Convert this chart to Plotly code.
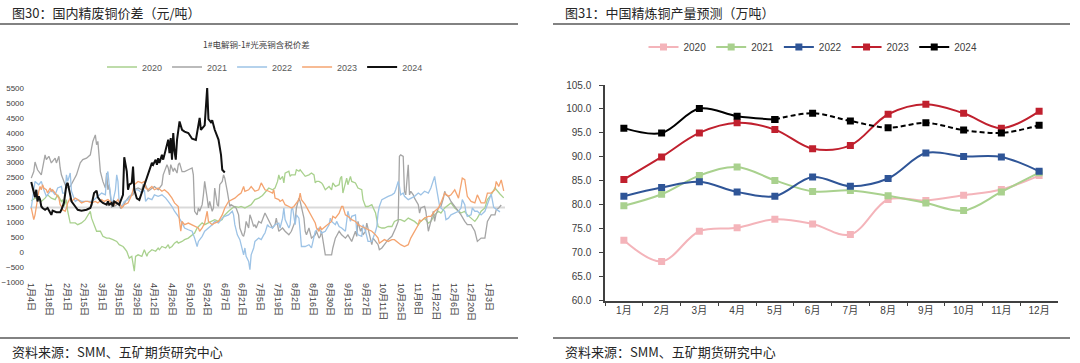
import pandas as pd
import plotly.graph_objects as go

# ---------------- Left chart data: 1#电解铜-1#光亮铜含税价差 (元/吨) ----------------
# x = days since 1月4日 (calendar overlay), y = spread
BASE_DATE = "2023-01-04"
TICK_STEP_DAYS = 14
N_TICKS = 27
BASELINE = 1500

D2020 = [0, 3, 6, 8, 11, 13, 16, 19, 21, 24, 25, 26, 28, 29, 31, 35, 37, 40, 43, 45, 47, 48, 51, 52, 55, 57, 60, 62, 65, 68,
         70, 73, 74, 76, 77, 78, 80, 81, 82, 83, 85, 88, 90, 92, 93, 96, 99, 101, 102, 104, 107, 109, 110, 112, 114, 116, 117,
         120, 122, 125, 128, 130, 132, 133, 136, 138, 141, 144, 146, 149, 152, 153, 154, 157, 160, 162, 165, 167, 170, 173,
         175, 178, 181, 184, 186, 189, 192, 194, 196, 197, 198, 200, 201, 202, 205, 206, 207, 210, 211, 213, 214, 215, 218,
         221, 223, 225, 226, 227, 229, 231, 232, 234, 237, 239, 240, 242, 245, 246, 247, 248, 250, 251, 252, 254, 255, 258,
         260, 262, 263, 264, 266, 268, 271, 274, 275, 276, 279, 281, 284, 287, 289, 292, 294, 297, 300, 302, 305, 308, 310,
         313, 316, 318, 321, 324, 326, 329, 332, 334, 337, 340, 342, 345, 347, 350, 353, 355, 358, 361, 363, 366, 369, 373, 376]
V2020 = [1720, 1810, 1760, 1700, 1810, 1920, 1810, 1760, 1920, 1700, 1760, 1530, 1760, 1370, 980, 980, 920, 980, 1090, 1250,
         1370, 1140, 810, 700, 700, 530, 470, 470, 420, 360, 250, 190, 140, 30, -90, -200, -140, -420, -640, -140, -90, -140,
         80, -140, -30, 80, 30, 140, 80, 190, 140, 250, 140, 190, 300, 360, 300, 360, 420, 470, 580, 640, 810, 860, 980, 920,
         980, 1030, 1090, 1030, 1090, 1200, 1250, 1370, 1480, 1530, 1500, 1530, 1480, 1530, 1590, 1760, 1810, 1900, 2000,
         2150, 2090, 2150, 2370, 2590, 2430, 2540, 2320, 2650, 2710, 2540, 2590, 2590, 2760, 2710, 2760, 2710, 2540, 2590,
         2650, 2590, 2320, 2370, 2370, 2320, 2260, 2090, 2200, 2090, 2320, 2200, 2260, 2480, 2540, 1980, 2320, 2480, 2260,
         2540, 2370, 2320, 2150, 2090, 2090, 1760, 1530, 1530, 1590, 1310, 1100, 860, 810, 810, 860, 860, 1030, 1090, 1090,
         1030, 1140, 1090, 1030, 920, 1030, 1140, 975, 1030, 1250, 1370, 1310, 1480, 1590, 1650, 1480, 1370, 1310, 1370,
         1250, 1140, 1030, 1140, 1370, 1480, 1760, 1920, 2150, 1950, 1820]

D2021 = [0, 2, 3, 5, 8, 10, 11, 12, 14, 16, 18, 19, 20, 22, 23, 24, 26, 28, 31, 33, 36, 39, 41, 44, 47, 49, 51, 52, 53, 54,
         55, 57, 59, 60, 61, 62, 63, 64, 65, 66, 68, 69, 71, 73, 75, 78, 81, 82, 85, 88, 89, 91, 93, 96, 98, 101, 104, 105,
         107, 108, 109, 110, 111, 113, 114, 116, 117, 118, 120, 122, 125, 128, 129, 130, 132, 133, 134, 136, 137, 138, 140,
         141, 142, 144, 145, 146, 148, 149, 150, 152, 153, 154, 156, 157, 158, 159, 161, 163, 165, 166, 168, 169, 170, 171,
         173, 174, 175, 177, 178, 179, 181, 183, 186, 189, 192, 194, 195, 197, 200, 202, 205, 207, 210, 211, 213, 214, 215,
         217, 218, 219, 221, 223, 226, 227, 229, 230, 231, 232, 234, 237, 239, 240, 242, 245, 247, 250, 252, 255, 258, 259,
         260, 262, 263, 264, 266, 267, 268, 270, 271, 272, 274, 276, 277, 279, 281, 284, 287, 289, 290, 292, 293, 294, 296,
         297, 298, 300, 301, 302, 304, 305, 308, 309, 310, 313, 314, 316, 317, 318, 320, 321, 322, 324, 326, 328, 329, 330,
         332, 334, 337, 340, 342, 345, 347, 350, 353, 355, 357, 358, 361, 363, 366, 369, 370, 372, 374]
V2021 = [2480, 2700, 3020, 2760, 2590, 3100, 3260, 3100, 3210, 2990, 3100, 3150, 2990, 3210, 2820, 2590, 2370, 2150, 2200,
         2370, 2590, 2990, 3100, 3150, 3260, 3710, 3930, 3600, 3710, 3210, 2700, 2370, 2150, 2650, 2090, 2260, 1810, 1480,
         1700, 1530, 1590, 1650, 1480, 1530, 1700, 1870, 1920, 2090, 2150, 2090, 2260, 2250, 2040, 2150, 2200, 2090, 2260,
         2590, 2870, 2930, 2820, 2590, 2930, 2700, 2820, 2650, 2930, 2990, 2700, 2700, 2760, 2820, 2590, 1370, 1250, 1480,
         1370, 1590, 1920, 2370, 1810, 1480, 1700, 1370, 1480, 2150, 1590, 1530, 2260, 2370, 2590, 2480, 2040, 1700, 1530,
         1590, 1530, 1480, 1250, 810, 580, 530, 700, 1030, 810, 1250, 1140, 860, 920, 810, 1030, 975, 1310, 1030, 810, 920,
         1140, 700, 810, 700, 580, 700, 1030, 1480, 1810, 1700, 1530, 1140, 700, 580, 810, 470, 580, 700, 470, 530, 700, 470,
         -90, -90, -90, 140, 470, 700, 580, 470, 580, 360, 700, 530, 1030, 700, 810, 580, 700, 975, 810, 470, 250, 470, 360,
         250, 80, 140, 250, 420, 530, 700, 810, 1030, 3210, 3260, 3210, 2040, 1920, 2930, 1920, 2040, 1920, 1810, 1590, 1310,
         1480, 1530, 1370, 700, 920, 1030, 1370, 1030, 1250, 1480, 1530, 1810, 2040, 1920, 1870, 1700, 1530, 1370, 1250,
         1030, 920, 920, 700, 360, 420, 470, 470, 1030, 1250, 1250, 1420, 1480, 1580]

D2022 = [0, 2, 3, 6, 8, 10, 12, 14, 16, 19, 21, 24, 25, 27, 28, 29, 31, 32, 35, 37, 40, 44, 48, 50, 53, 56, 59, 60, 61, 62,
         64, 65, 67, 68, 69, 70, 72, 74, 77, 80, 82, 85, 88, 90, 91, 93, 96, 98, 101, 104, 107, 109, 112, 114, 117, 120, 122,
         125, 128, 130, 132, 133, 136, 138, 141, 144, 146, 149, 152, 154, 157, 160, 161, 162, 164, 166, 169, 170, 171, 173,
         174, 175, 177, 178, 181, 183, 185, 186, 188, 189, 192, 194, 197, 198, 200, 201, 202, 205, 206, 207, 208, 210, 211,
         213, 214, 215, 218, 221, 223, 225, 226, 229, 231, 234, 237, 238, 239, 242, 243, 245, 247, 250, 251, 252, 254, 255,
         258, 259, 260, 263, 264, 266, 268, 271, 274, 275, 276, 277, 279, 281, 284, 287, 289, 290, 292, 293, 294, 296, 297,
         300, 302, 305, 308, 310, 313, 316, 318, 321, 322, 324, 325, 326, 329, 330, 332, 334, 337, 340, 342, 343, 345, 346,
         347, 350, 351, 353, 355, 358, 361, 364, 366, 368, 371, 373]
V2022 = [1480, 2090, 2370, 2260, 2370, 2090, 1870, 1980, 2090, 1920, 2150, 2200, 1980, 1980, 2590, 2370, 2650, 2040, 1700,
         1760, 1700, 1700, 1700, 1760, 1870, 1980, 1920, 2590, 2700, 2260, 1650, 1700, 2090, 2590, 2370, 1650, 1530, 1700,
         1760, 1980, 2090, 2090, 1980, 2090, 1700, 1810, 1760, 1920, 1870, 1920, 1810, 1700, 1530, 1370, 1200, 980, 810, 750,
         700, 470, 190, 360, 530, 700, 810, 920, 1030, 975, 1140, 1200, 1250, 1370, 1250, 920, 580, 420, -90, 140, -140, -310,
         -590, -90, 140, 360, 470, 420, 580, 640, 920, 860, 810, 920, 975, 810, 1140, 1480, 1090, 810, 920, 1420, 1480, 920,
         1250, 1140, 700, 190, 190, 250, 140, 470, 700, 810, 640, 700, 920, 1140, 1030, 920, 1030, 860, 810, 700, 1030, 1370,
         1030, 1200, 1250, 700, 580, 530, 920, 700, 360, 360, 700, 860, 1310, 1530, 1760, 1810, 1870, 1920, 1980, 2090, 2370,
         2200, 1920, 1980, 1870, 1760, 1810, 1870, 1980, 1920, 2040, 1980, 2150, 2540, 2260, 1700, 1530, 1480, 1370, 1090,
         1140, 1250, 1310, 1370, 1480, 1760, 1590, 1310, 1200, 1250, 1480, 1370, 1370, 1250, 1370, 1700, 1950, 1500, 1400,
         1350]

D2023 = [0, 1, 2, 3, 4, 5, 6, 7, 8, 9, 10, 12, 13, 15, 16, 17, 19, 20, 22, 23, 24, 25, 27, 28, 29, 31, 32, 35, 37, 40, 43,
         45, 48, 51, 53, 56, 58, 61, 64, 66, 69, 70, 72, 74, 77, 80, 82, 85, 88, 90, 91, 93, 96, 98, 101, 104, 106, 109, 112,
         114, 117, 118, 119, 120, 122, 125, 128, 130, 133, 134, 136, 138, 140, 141, 144, 146, 149, 152, 154, 157, 160, 162,
         165, 167, 169, 170, 173, 175, 178, 181, 183, 185, 186, 189, 192, 193, 194, 197, 198, 200, 202, 205, 207, 209, 210,
         213, 214, 215, 218, 221, 223, 226, 227, 229, 230, 231, 234, 237, 239, 240, 242, 245, 247, 248, 250, 252, 255, 258,
         260, 263, 266, 268, 271, 274, 276, 277, 279, 281, 284, 287, 289, 292, 294, 297, 300, 302, 305, 308, 309, 310, 313,
         316, 318, 321, 324, 326, 329, 332, 334, 337, 340, 342, 343, 345, 346, 347, 350, 353, 355, 358, 361, 363, 366, 369,
         370, 372, 374, 376]
V2023 = [1480, 1250, 1090, 1250, 1530, 1810, 2040, 2200, 2090, 2260, 2150, 2090, 1980, 2150, 2040, 2090, 1980, 1920, 1810,
         1590, 1530, 1420, 1370, 1480, 1650, 1810, 1700, 1810, 1760, 1650, 1700, 1700, 1650, 1700, 1650, 1760, 1700, 1760,
         1650, 1590, 1760, 1650, 1480, 1590, 1650, 1920, 2260, 2370, 2320, 2370, 2150, 2090, 2200, 2090, 2150, 2040, 2090,
         1980, 1810, 1650, 1530, 1030, 700, 1030, 920, 975, 920, 860, 810, 700, 810, 975, 1370, 1030, 920, 975, 1030, 1250,
         1480, 1700, 1760, 1810, 1920, 1980, 2200, 2040, 2090, 2200, 2040, 2090, 2320, 2150, 2090, 2040, 1980, 2090, 1810,
         1760, 1700, 1760, 1590, 1530, 1480, 1530, 1590, 1760, 1980, 1760, 1590, 1370, 1200, 975, 810, 700, 860, 750, 860,
         975, 1030, 1200, 1140, 1310, 1530, 1530, 1250, 1200, 1090, 1030, 920, 860, 810, 750, 700, 580, 470, 300, 360, 420,
         360, 420, 420, 300, 250, 190, 250, 470, 700, 920, 1090, 1030, 1140, 1200, 1200, 1370, 1480, 1650, 1980, 1870, 1920,
         2090, 1810, 2260, 2480, 2430, 2090, 1870, 1700, 1650, 1920, 1650, 1650, 1980, 1980, 2090, 2370, 2200, 2420, 2050]

D2024 = [0, 2, 3, 4, 5, 6, 7, 8, 9, 11, 13, 16, 17, 20, 23, 24, 26, 28, 29, 31, 32, 35, 37, 40, 44, 47, 48, 50, 52, 53, 55,
         57, 60, 61, 62, 64, 65, 66, 68, 70, 73, 74, 76, 77, 78, 80, 81, 82, 84, 86, 88, 90, 93, 94, 96, 97, 99, 100, 101,
         102, 104, 105, 106, 107, 109, 110, 111, 112, 113, 114, 115, 116, 118, 120, 122, 125, 128, 131, 132, 134, 135, 137,
         138, 140, 141, 143, 144, 146, 147, 149, 151, 152, 154]
V2024 = [2350, 1990, 1840, 2090, 1700, 1870, 1760, 1530, 1480, 1420, 1480, 1250, 1390, 1340, 1340, 1420, 1650, 2260, 2320,
         1920, 1700, 1530, 1420, 1390, 1420, 1480, 1590, 1980, 2060, 1835, 1720, 1650, 1590, 1700, 1590, 1650, 1530, 1700,
         1650, 1590, 1920, 3180, 2710, 2090, 2260, 2320, 2870, 2090, 1800, 1750, 2000, 2260, 2590, 2700, 2990, 2930, 3100,
         2930, 3150, 2990, 3260, 3100, 3260, 3380, 3770, 3320, 3820, 3100, 3990, 3380, 3100, 3760, 4380, 4100, 4040, 3990,
         3800, 3760, 4040, 4500, 4100, 4210, 4250, 5500, 4460, 4350, 4420, 4100, 4000, 3770, 3260, 2760, 2670]

LEFT_SERIES = [
    ("2020", D2020, V2020, "#A9D18E", 1.3),
    ("2021", D2021, V2021, "#A5A5A5", 1.3),
    ("2022", D2022, V2022, "#9DC3E6", 1.3),
    ("2023", D2023, V2023, "#F4A470", 1.3),
    ("2024", D2024, V2024, "#111111", 2.0),
]

# ---------------- Right chart data: 中国精炼铜产量预测 (万吨) ----------------
MONTHS = ["1月", "2月", "3月", "4月", "5月", "6月", "7月", "8月", "9月", "10月", "11月", "12月"]
P2020 = [72.6, 68.2, 74.5, 75.2, 77.0, 76.0, 73.8, 81.1, 80.9, 82.0, 83.2, 86.1]
P2021 = [79.8, 82.2, 86.1, 87.9, 85.1, 82.8, 83.0, 81.9, 80.4, 78.8, 82.7, 86.7]
P2022 = [81.8, 83.6, 84.8, 82.7, 81.8, 85.8, 83.9, 85.5, 90.8, 90.1, 90.0, 87.0]
P2023 = [85.3, 90.0, 95.0, 97.1, 95.7, 91.7, 92.4, 98.9, 101.0, 99.1, 96.0, 99.5]
P2024 = [96.0, 95.0, 100.1, 98.5, 97.8, 99.1, 97.5, 96.1, 97.1, 95.6, 95.0, 96.6]
ACTUAL_MONTHS_2024 = 5  # solid up to 5月, forecast (dashed) afterwards

RIGHT_SERIES = [
    ("2020", P2020, "#F4B4BA"),
    ("2021", P2021, "#A9D18E"),
    ("2022", P2022, "#2F5597"),
    ("2023", P2023, "#C0202E"),
]

W, H = 1080, 363
def px_x(p): return p / W
def px_y(p): return 1 - p / H

TICK_FONT = "Liberation Sans, Noto Sans CJK SC, sans-serif"
CJK_FONT = "Noto Sans CJK SC, sans-serif"

fig = go.Figure()

base = pd.Timestamp(BASE_DATE)
for name, days, vals, color, width in LEFT_SERIES:
    xs = base + pd.to_timedelta(days, unit="D")
    fig.add_trace(go.Scatter(
        x=xs, y=vals, mode="lines", name=name,
        line=dict(color=color, width=width),
        xaxis="x", yaxis="y", legend="legend",
    ))

tickvals = [base + pd.Timedelta(days=TICK_STEP_DAYS * k) for k in range(N_TICKS)]
ticktext = [f"{t.month}月{t.day}日" for t in tickvals]

for name, vals, color in RIGHT_SERIES:
    fig.add_trace(go.Scatter(
        x=MONTHS, y=vals, mode="lines+markers", name=name,
        line=dict(color=color, width=2, shape="spline", smoothing=1),
        marker=dict(symbol="square", size=7, color=color),
        xaxis="x2", yaxis="y2", legend="legend2",
    ))
fig.add_trace(go.Scatter(
    x=MONTHS[:ACTUAL_MONTHS_2024], y=P2024[:ACTUAL_MONTHS_2024], mode="lines+markers", name="2024",
    line=dict(color="#000000", width=2, shape="spline", smoothing=1),
    marker=dict(symbol="square", size=7, color="#000000"),
    xaxis="x2", yaxis="y2", legend="legend2",
))
fig.add_trace(go.Scatter(
    x=MONTHS[ACTUAL_MONTHS_2024 - 1:], y=P2024[ACTUAL_MONTHS_2024 - 1:], mode="lines+markers", name="2024",
    line=dict(color="#000000", width=2, shape="spline", smoothing=1, dash="5px,3px"),
    marker=dict(symbol="square", size=7, color="#000000"),
    xaxis="x2", yaxis="y2", legend="legend2", showlegend=False,
))

fig.update_layout(
    width=W, height=H, autosize=False,
    margin=dict(l=0, r=0, t=0, b=0, autoexpand=False),
    paper_bgcolor="white", plot_bgcolor="white",
    font=dict(family=TICK_FONT, color="#404040"),
    xaxis=dict(
        domain=[px_x(30), px_x(505)], type="date", automargin=False,
        range=[base - pd.Timedelta(days=1), base + pd.Timedelta(days=377)],
        tickmode="array", tickvals=tickvals, ticktext=ticktext, tickangle=90,
        tickfont=dict(size=9, color="#404040", family=TICK_FONT),
        showgrid=False, showline=False, zeroline=False, ticks="",
        anchor="y",
    ),
    yaxis=dict(
        domain=[px_y(282), px_y(88)], range=[-1000, 5500], dtick=500, tick0=0, automargin=False,
        tickfont=dict(size=8, color="#404040", family=TICK_FONT),
        showgrid=False, showline=False, zeroline=False, ticks="", ticklabelstandoff=5,
        anchor="x",
    ),
    xaxis2=dict(
        domain=[px_x(605), px_x(1058)], type="category", range=[-0.5, 11.5], automargin=False,
        showline=True, linecolor="#404040", linewidth=1.5,
        ticks="outside", tickson="boundaries", ticklen=4, tickcolor="#404040",
        tickfont=dict(size=10, color="#404040", family=TICK_FONT),
        showgrid=False, zeroline=False, anchor="y2",
    ),
    yaxis2=dict(
        domain=[px_y(300.7), px_y(85)], range=[60, 105], dtick=5, tickformat=".1f", automargin=False,
        showline=True, linecolor="#404040", linewidth=1.5,
        ticks="outside", ticklen=4, tickcolor="#404040", ticklabelstandoff=6,
        tickfont=dict(size=10, color="#404040", family=TICK_FONT),
        showgrid=False, zeroline=False, anchor="x2",
    ),
    legend=dict(
        orientation="h", x=px_x(265), xanchor="center", y=px_y(67), yanchor="middle",
        font=dict(size=9, color="#595959", family=TICK_FONT), bgcolor="rgba(0,0,0,0)",
        itemwidth=30,
    ),
    legend2=dict(
        orientation="h", x=px_x(813), xanchor="center", y=px_y(47), yanchor="middle",
        font=dict(size=10, color="#404040", family=TICK_FONT), bgcolor="rgba(0,0,0,0)",
        itemwidth=30,
    ),
    showlegend=True,
)

# baseline reference line at 1500 on the left chart
fig.add_shape(type="line", xref="x domain", yref="y", x0=0, x1=1, y0=BASELINE, y1=BASELINE,
              line=dict(color="#D9D9D9", width=2), layer="below")

# separators
for x0, x1 in [(0, 518), (553, 1070)]:
    for yy in [24, 338]:
        fig.add_shape(type="line", xref="paper", yref="paper", x0=px_x(x0), x1=px_x(x1),
                      y0=px_y(yy), y1=px_y(yy), line=dict(color="#595959", width=1.5))

texts = [
    ("图30：国内精废铜价差（元/吨）", 10, 12, 13),
    ("图31：中国精炼铜产量预测（万吨）", 563, 12, 13),
    ("资料来源：SMM、五矿期货研究中心", 10, 351, 13),
    ("资料来源：SMM、五矿期货研究中心", 563, 351, 13),
]
for t, xx, yy, sz in texts:
    fig.add_annotation(text=t, xref="paper", yref="paper", x=px_x(xx), y=px_y(yy),
                       xanchor="left", yanchor="middle", showarrow=False,
                       font=dict(size=sz, color="#262626", family=CJK_FONT))

fig.add_annotation(text="1#电解铜-1#光亮铜含税价差", xref="paper", yref="paper",
                   x=px_x(256), y=px_y(44), xanchor="center", yanchor="middle", showarrow=False,
                   font=dict(size=8.5, color="#404040", family=CJK_FONT))

fig.write_html(
    "out.html",
    config={"displayModeBar": False},
    post_script="document.body.style.margin='0';document.body.style.overflow='hidden';",
)
